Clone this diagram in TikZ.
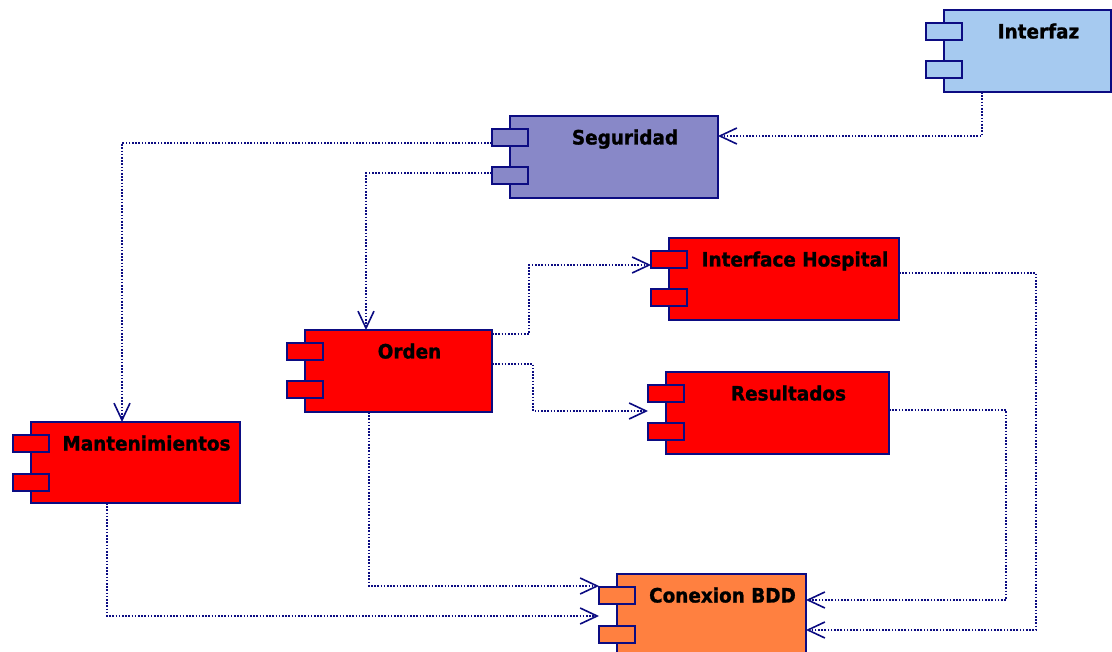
\documentclass[tikz,border=0pt]{standalone}
\usepackage{fontspec}
\setmainfont{DejaVu Sans}
\newfontfamily\labelfont[FakeStretch=0.93, FakeBold=1.2]{DejaVu Sans Bold}
\usetikzlibrary{arrows.meta}

\definecolor{umlnavy}{RGB}{12,12,130}
\definecolor{fillsky}{RGB}{166,202,240}
\definecolor{fillviolet}{RGB}{136,136,200}
\definecolor{fillred}{RGB}{255,0,0}
\definecolor{fillorange}{RGB}{255,128,64}

\tikzset{
  compbox/.style={draw=umlnavy, line width=2pt, rectangle, inner sep=0pt, outer sep=0pt},
  comptab/.style={draw=umlnavy, line width=2pt, rectangle, inner sep=0pt, outer sep=0pt,
                  minimum width=36pt, minimum height=17pt},
  complabel/.style={anchor=base, inner sep=0pt, font=\labelfont\fontsize{19.8}{23}\selectfont},
  dep/.style={draw=umlnavy, line width=1.6pt, dash pattern=on 1.6pt off 1.6pt,
              -{Straight Barb[length=17pt, width=16pt, line width=1.6pt]}}
}

% component: name, left, top, right, bottom, fill colour, label
\newcommand{\umlcomp}[7]{%
  \node[compbox, fill=#6, minimum width={(#4-#2)*1pt}, minimum height={(#5-#3)*1pt}]
    (#1) at ({(#2+#4)/2},{(#3+#5)/2}) {};
  \node[comptab, fill=#6] (#1-t1) at (#2,{#3+21.5}) {};
  \node[comptab, fill=#6] (#1-t2) at (#2,{#3+60}) {};
  \node[complabel] (#1-lbl) at ({(#2+#4)/2+11},{#3+28.5}) {#7};
}

\begin{document}
\begin{tikzpicture}[x=1pt, y=-1pt]
  \useasboundingbox (0,0) rectangle (1112,652);
  \clip (0,0) rectangle (1112,652);
  \fill[white] (0,0) rectangle (1112,652);

  \umlcomp{intf}{944}{10}{1111}{92}{fillsky}{Interfaz}
  \umlcomp{seg}{510}{116}{718}{198}{fillviolet}{Seguridad}
  \umlcomp{ih}{669}{238}{899}{320}{fillred}{Interface Hospital}
  \umlcomp{orden}{305}{330}{492}{412}{fillred}{Orden}
  \umlcomp{res}{666}{372}{889}{454}{fillred}{Resultados}
  \umlcomp{mant}{31}{422}{240}{503}{fillred}{Mantenimientos}
  \umlcomp{bdd}{617}{574}{806}{690}{fillorange}{Conexion BDD}

  % dependencies
  \draw[dep] (intf.south -| 982,0) |- (seg.east |- 0,136);
  \draw[dep] (seg-t1.west |- 0,143) -| (mant.north -| 122,0);
  \draw[dep] (seg-t2.west |- 0,173) -| (orden.north -| 366,0);
  \draw[dep] (orden.east |- 0,334) -| (529,265) -- (ih-t1.west |- 0,265);
  \draw[dep] (orden.east |- 0,364) -| (533,411) -- (res-t1.west |- 0,411);
  \draw[dep] (orden.south -| 369,0) |- (bdd-t1.west |- 0,586);
  \draw[dep] (mant.south -| 107,0) |- (bdd-t1.west |- 0,616);
  \draw[dep] (ih.east |- 0,273) -| (1036,630) -- (bdd.east |- 0,630);
  \draw[dep] (res.east |- 0,410) -| (1006,600) -- (bdd.east |- 0,600);
\end{tikzpicture}
\end{document}
